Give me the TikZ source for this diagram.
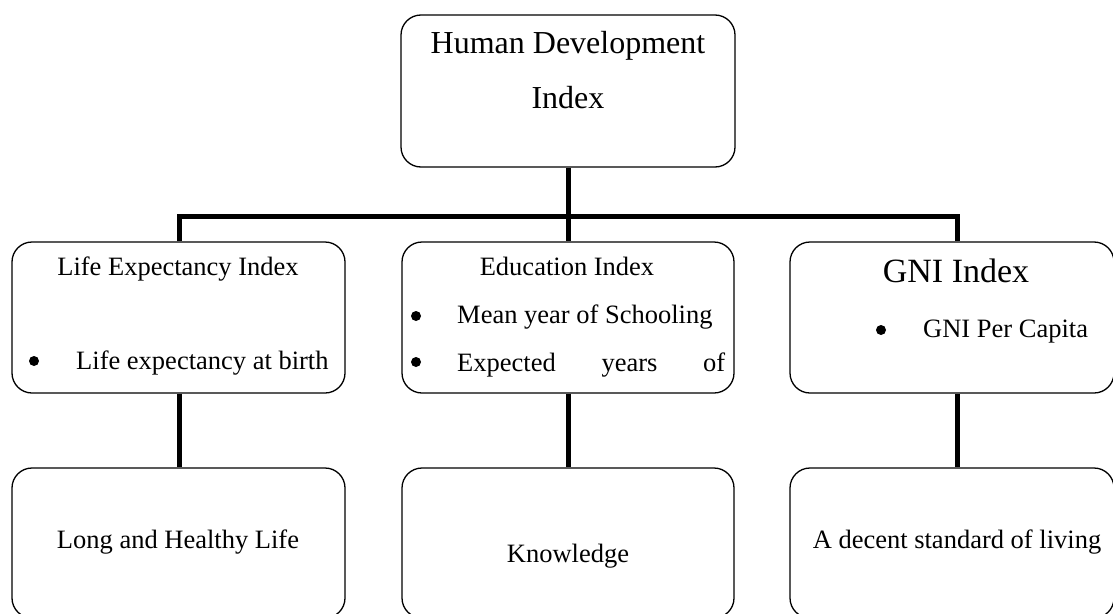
\documentclass[tikz,border=0pt]{standalone}
\usepackage{fontspec}
\setmainfont{Liberation Serif}
\begin{document}
\begin{tikzpicture}[x=1pt,y=-1pt,
  box/.style={draw=black,line width=1.3pt,rounded corners=20pt,inner sep=0pt},
  conn/.style={line width=5pt,line join=miter},
  txt/.style={inner sep=0pt,anchor=base},
  txtl/.style={inner sep=0pt,anchor=base west},
  dot/.style={circle,fill=black,inner sep=0pt,minimum size=10pt},
  big/.style={font=\fontsize{32}{38}\selectfont},
  gni/.style={font=\fontsize{34}{40}\selectfont},
  med/.style={font=\fontsize{26.5}{32}\selectfont}]
\useasboundingbox (0,0) rectangle (1113,613);
% boxes
\node[box,minimum width=334pt,minimum height=152pt] (hdi) at (568,91) {};
\node[box,minimum width=333pt,minimum height=151pt] (lei) at (178.5,317.5) {};
\node[box,minimum width=332pt,minimum height=151pt] (edu) at (568,317.5) {};
\node[box,minimum width=324pt,minimum height=151pt] (gnix) at (952,317.5) {};
\node[box,minimum width=333pt,minimum height=150pt] (long) at (178.5,543) {};
\node[box,minimum width=332pt,minimum height=150pt] (know) at (568,543) {};
\node[box,minimum width=324pt,minimum height=150pt] (dec) at (952,543) {};
% connectors
\coordinate (bar) at (568,216);
\draw[conn] (hdi.south) -- (edu.north);
\draw[conn] (lei.north -| 179,0) |- (bar) -| (gnix.north -| 957,0);
\draw[conn] (lei.south -| 179,0) -- (long.north -| 179,0);
\draw[conn] (edu.south) -- (know.north);
\draw[conn] (gnix.south -| 957,0) -- (dec.north -| 957,0);
% bullets
\node[dot] (b1) at (34,361) {};
\node[dot] (b2) at (416,316) {};
\node[dot] (b3) at (416,362) {};
\node[dot] (b4) at (881,330) {};
% texts
\node[txt,big] (t1) at (568,53) {Human Development};
\node[txt,big] (t2) at (568,108) {Index};
\node[txt,med] (t3) at (178,275) {Life Expectancy Index};
\node[txtl,med] (t4) at (76,369) {Life expectancy at birth};
\node[txt,med] (t5) at (567,275) {Education Index};
\node[txtl,med] (t6) at (457,323) {Mean year of Schooling};
\node[txtl,med] (t7) at (457,371) {\hbox to 268pt{Expected\hfill years\hfill of}};
\node[txt,gni] (t8) at (956,282) {GNI Index};
\node[txtl,med] (t9) at (923,337) {GNI Per Capita};
\node[txt,med] (t10) at (178,548) {Long and Healthy Life};
\node[txt,med] (t11) at (568,562) {Knowledge};
\node[txt,med] (t12) at (957,548) {A decent standard of living};
\end{tikzpicture}
\end{document}
